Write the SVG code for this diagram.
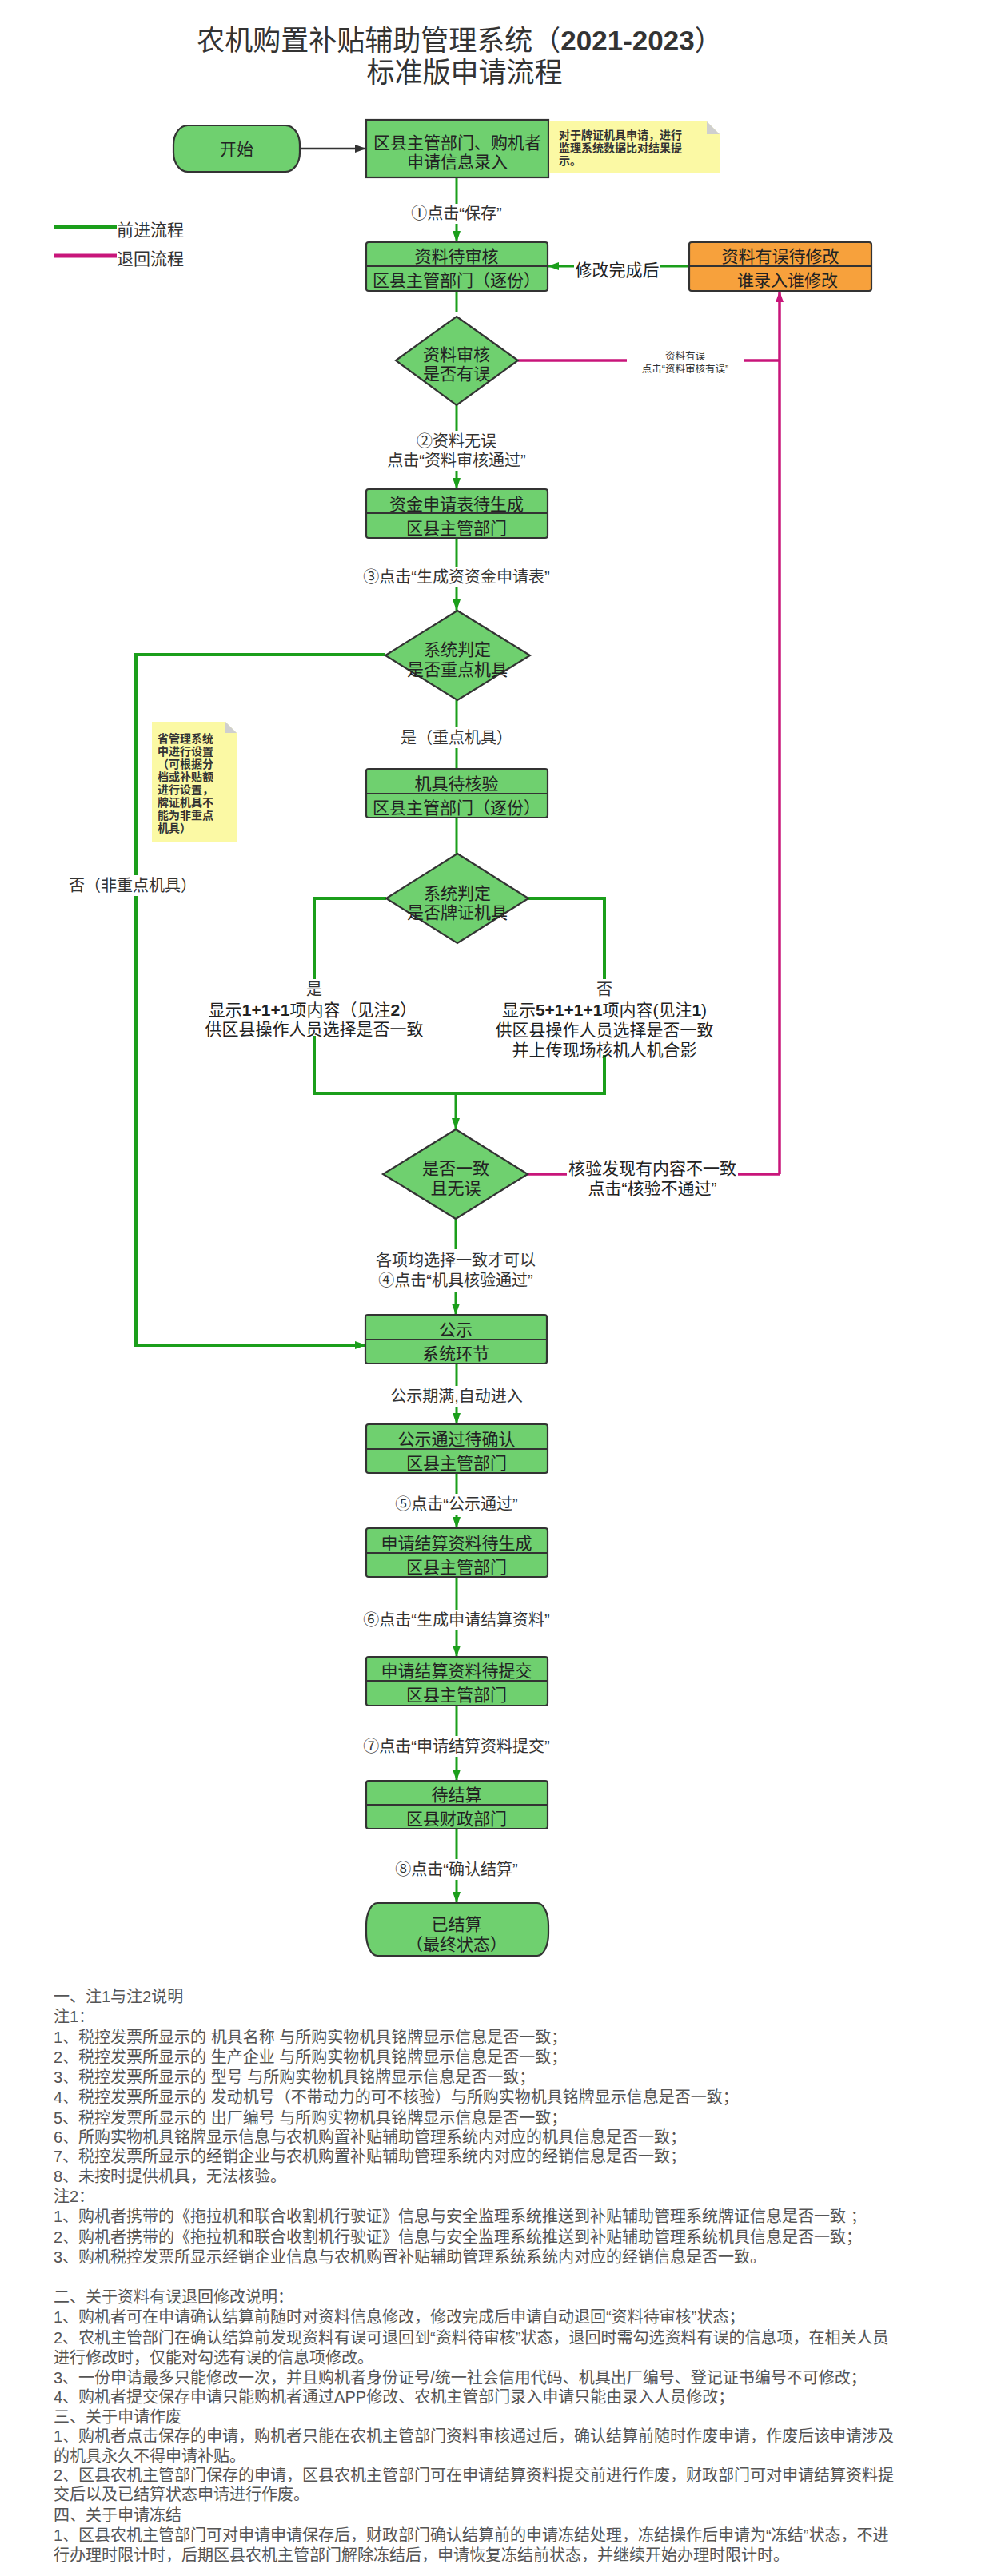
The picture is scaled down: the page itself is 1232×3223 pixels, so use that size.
<svg xmlns="http://www.w3.org/2000/svg" width="1232" height="3223" viewBox="0 0 1232 3223">
<style>
text{font-family:"Liberation Sans","Noto Sans CJK SC",sans-serif;dominant-baseline:central}
.title{font-size:35px;fill:#333;text-anchor:middle}
.t{font-size:21px;fill:#222;text-anchor:middle}
.l{font-size:20px;fill:#333;text-anchor:middle}
.s{font-size:12.5px;fill:#333;text-anchor:middle}
.nt{font-size:14px;fill:#333;font-weight:bold}
.doc{font-size:20px;fill:#555}
.box{fill:#6fd06f;stroke:#333;stroke-width:2.2}
.org{fill:#f7a13c;stroke:#333;stroke-width:2.2}
.div{stroke:#333;stroke-width:2.2}
.note{fill:#fbf9a4}
.fold{fill:#cfcfcf}
.g{fill:none;stroke:#1b9e1b;stroke-width:3}
.gt{fill:none;stroke:#1b9e1b;stroke-width:4}
.m{fill:none;stroke:#c8157a;stroke-width:3.5}
.k{fill:none;stroke:#333;stroke-width:2.5}
.bg{fill:#fff}
</style>
<defs>
<marker id="ag" markerWidth="14" markerHeight="10" refX="14" refY="5" orient="auto" markerUnits="userSpaceOnUse"><path d="M0,0 L14,5 L0,10 z" fill="#1b9e1b"/></marker>
<marker id="am" markerWidth="14" markerHeight="10" refX="14" refY="5" orient="auto" markerUnits="userSpaceOnUse"><path d="M0,0 L14,5 L0,10 z" fill="#c8157a"/></marker>
<marker id="ak" markerWidth="14" markerHeight="10" refX="14" refY="5" orient="auto" markerUnits="userSpaceOnUse"><path d="M0,0 L14,5 L0,10 z" fill="#333"/></marker>
</defs>
<rect width="1232" height="3223" fill="#fff"/>

<g id="title">
<text class="title" x="575" y="50">农机购置补贴辅助管理系统（<tspan font-weight="bold">2021-2023</tspan>）</text>
<text class="title" x="581" y="90">标准版申请流程</text>
</g>

<g id="legend">
<line x1="67" y1="284" x2="146" y2="284" stroke="#1b9e1b" stroke-width="5"/>
<text x="146" y="287" font-size="21" fill="#333">前进流程</text>
<line x1="67" y1="320" x2="146" y2="320" stroke="#c8157a" stroke-width="5"/>
<text x="146" y="323" font-size="21" fill="#333">退回流程</text>
</g>

<g id="connectors">
<path class="k" d="M375,186 H458" marker-end="url(#ak)"/>
<path class="g" d="M571,222 V303" marker-end="url(#ag)"/>
<path class="g" d="M571,364 V390"/>
<path class="g" d="M571,507 V612" marker-end="url(#ag)"/>
<path class="m" d="M648,451 H975"/>
<path class="m" d="M975,1469 V364" marker-end="url(#am)"/>
<path class="m" d="M658,1469 H975"/>
<path class="g" d="M862,333 H685" marker-end="url(#ag)"/>
<path class="g" d="M571,673 V764" marker-end="url(#ag)"/>
<path class="g" d="M571,876 V962"/>
<path class="gt" d="M482,819 H170 V1683 H458" marker-end="url(#ag)"/>
<path class="g" d="M571,1023 V1068"/>
<path class="gt" d="M483,1124 H393 V1225"/>
<path class="gt" d="M661,1124 H756 V1225"/>
<path class="gt" d="M393,1296 V1368 H756 V1320"/>
<path class="g" d="M570,1368 V1413" marker-end="url(#ag)"/>
<path class="g" d="M570,1525 V1645" marker-end="url(#ag)"/>
<path class="g" d="M571,1706 V1782" marker-end="url(#ag)"/>
<path class="g" d="M571,1843 V1912" marker-end="url(#ag)"/>
<path class="g" d="M571,1973 V2073" marker-end="url(#ag)"/>
<path class="g" d="M571,2134 V2228" marker-end="url(#ag)"/>
<path class="g" d="M571,2288 V2381" marker-end="url(#ag)"/>

<rect class="bg" x="509" y="255" width="124" height="25"/>
<text class="l" x="571" y="267">①点击“保存”</text>
<rect class="bg" x="479" y="539" width="184" height="50"/>
<text class="l" x="571" y="552">②资料无误</text>
<text class="l" x="571" y="576">点击“资料审核通过”</text>
<rect class="bg" x="452" y="709" width="238" height="26"/>
<text class="l" x="571" y="722">③点击“生成资资金申请表”</text>
<rect class="bg" x="718" y="322" width="108" height="26"/>
<text class="t" x="772" y="337">修改完成后</text>
<rect class="bg" x="784" y="436" width="146" height="36"/>
<text class="s" x="857" y="446">资料有误</text>
<text class="s" x="857" y="462">点击“资料审核有误”</text>
<rect class="bg" x="501" y="910" width="140" height="26"/>
<text class="l" x="571" y="923">是（重点机具）</text>
<rect class="bg" x="84" y="1095" width="164" height="26"/>
<text class="l" x="166" y="1108">否（非重点机具）</text>
<text class="l" x="393" y="1238">是</text>
<text class="l" x="756" y="1238">否</text>
<rect class="bg" x="709" y="1447" width="214" height="53"/>
<text class="t" x="816" y="1461">核验发现有内容不一致</text>
<text class="t" x="816" y="1486">点击“核验不通过”</text>
<rect class="bg" x="468" y="1563" width="204" height="53"/>
<text class="l" x="570" y="1577">各项均选择一致才可以</text>
<text class="l" x="570" y="1602">④点击“机具核验通过”</text>
<rect class="bg" x="486" y="1734" width="170" height="26"/>
<text class="l" x="571" y="1747">公示期满,自动进入</text>
<rect class="bg" x="493" y="1869" width="158" height="26"/>
<text class="l" x="571" y="1882">⑤点击“公示通过”</text>
<rect class="bg" x="453" y="2014" width="238" height="26"/>
<text class="l" x="571" y="2027">⑥点击“生成申请结算资料”</text>
<rect class="bg" x="453" y="2172" width="238" height="26"/>
<text class="l" x="571" y="2185">⑦点击“申请结算资料提交”</text>
<rect class="bg" x="493" y="2326" width="158" height="26"/>
<text class="l" x="571" y="2339">⑧点击“确认结算”</text>
</g>

<g id="n-start">
<rect class="box" x="217" y="157" width="158" height="58" rx="18" ry="24"/>
<text class="t" x="296" y="186">开始</text>
</g>
<g id="n-entry">
<rect class="box" x="458" y="150" width="228" height="72"/>
<text class="t" x="572" y="178">区县主管部门、购机者</text>
<text class="t" x="572" y="202">申请信息录入</text>
</g>
<g id="note1">
<path class="note" d="M687,152 H884 L900,168 V217 H687 Z"/>
<path class="fold" d="M884,152 L900,168 H884 Z"/>
<text class="nt" x="699" y="169">对于牌证机具申请，进行</text>
<text class="nt" x="699" y="185">监理系统数据比对结果提</text>
<text class="nt" x="699" y="201">示。</text>
</g>
<g id="n-review">
<rect class="box" x="458" y="303" width="227" height="61" rx="3"/>
<line class="div" x1="458" y1="333" x2="685" y2="333"/>
<text class="t" x="571" y="320">资料待审核</text>
<text class="t" x="571" y="350">区县主管部门（逐份）</text>
</g>
<g id="n-fix">
<rect class="org" x="862" y="303" width="228" height="61" rx="3"/>
<line class="div" x1="862" y1="333" x2="1090" y2="333"/>
<text class="t" x="976" y="320">资料有误待修改</text>
<text class="t" x="985" y="350">谁录入谁修改</text>
</g>
<g id="d-review">
<path class="box" d="M571,396 L648,451 L571,507 L495,451 Z"/>
<text class="t" x="571" y="443">资料审核</text>
<text class="t" x="571" y="467">是否有误</text>
</g>
<g id="n-fund">
<rect class="box" x="458" y="612" width="227" height="61" rx="3"/>
<line class="div" x1="458" y1="642" x2="685" y2="642"/>
<text class="t" x="571" y="630">资金申请表待生成</text>
<text class="t" x="571" y="660">区县主管部门</text>
</g>
<g id="d-key">
<path class="box" d="M572,764 L663,820 L572,876 L482,820 Z"/>
<text class="t" x="572" y="812">系统判定</text>
<text class="t" x="572" y="837">是否重点机具</text>
</g>
<g id="note2">
<path class="note" d="M190,903 H282 L296,917 V1053 H190 Z"/>
<path class="fold" d="M282,903 L296,917 H282 Z"/>
<text class="nt" x="197" y="924">省管理系统</text>
<text class="nt" x="197" y="940">中进行设置</text>
<text class="nt" x="197" y="956">（可根据分</text>
<text class="nt" x="197" y="972">档或补贴额</text>
<text class="nt" x="197" y="988">进行设置，</text>
<text class="nt" x="197" y="1004">牌证机具不</text>
<text class="nt" x="197" y="1020">能为非重点</text>
<text class="nt" x="197" y="1036">机具）</text>
</g>
<g id="n-check">
<rect class="box" x="458" y="962" width="227" height="61" rx="3"/>
<line class="div" x1="458" y1="993" x2="685" y2="993"/>
<text class="t" x="571" y="980">机具待核验</text>
<text class="t" x="571" y="1010">区县主管部门（逐份）</text>
</g>
<g id="d-plate">
<path class="box" d="M572,1068 L661,1124 L572,1180 L483,1124 Z"/>
<text class="t" x="572" y="1117">系统判定</text>
<text class="t" x="572" y="1141">是否牌证机具</text>
</g>
<g id="t-yes">
<text class="t" x="391" y="1263">显示<tspan font-weight="bold">1+1+1</tspan>项内容（见注<tspan font-weight="bold">2</tspan>）</text>
<text class="t" x="393" y="1287">供区县操作人员选择是否一致</text>
</g>
<g id="t-no">
<text class="t" x="756" y="1263">显示<tspan font-weight="bold">5+1+1+1</tspan>项内容(见注<tspan font-weight="bold">1</tspan>)</text>
<text class="t" x="756" y="1288">供区县操作人员选择是否一致</text>
<text class="t" x="756" y="1313">并上传现场核机人机合影</text>
</g>
<g id="d-match">
<path class="box" d="M570,1413 L660,1469 L570,1525 L479,1469 Z"/>
<text class="t" x="570" y="1461">是否一致</text>
<text class="t" x="570" y="1486">且无误</text>
</g>
<g id="n-public">
<rect class="box" x="457" y="1645" width="227" height="61" rx="3"/>
<line class="div" x1="457" y1="1676" x2="684" y2="1676"/>
<text class="t" x="570" y="1663">公示</text>
<text class="t" x="570" y="1693">系统环节</text>
</g>
<g id="n-confirm">
<rect class="box" x="458" y="1782" width="227" height="61" rx="3"/>
<line class="div" x1="458" y1="1813" x2="685" y2="1813"/>
<text class="t" x="571" y="1800">公示通过待确认</text>
<text class="t" x="571" y="1830">区县主管部门</text>
</g>
<g id="n-gen">
<rect class="box" x="458" y="1912" width="227" height="61" rx="3"/>
<line class="div" x1="458" y1="1943" x2="685" y2="1943"/>
<text class="t" x="571" y="1930">申请结算资料待生成</text>
<text class="t" x="571" y="1960">区县主管部门</text>
</g>
<g id="n-submit">
<rect class="box" x="458" y="2073" width="227" height="61" rx="3"/>
<line class="div" x1="458" y1="2103" x2="685" y2="2103"/>
<text class="t" x="571" y="2090">申请结算资料待提交</text>
<text class="t" x="571" y="2120">区县主管部门</text>
</g>
<g id="n-settle">
<rect class="box" x="458" y="2228" width="227" height="60" rx="3"/>
<line class="div" x1="458" y1="2258" x2="685" y2="2258"/>
<text class="t" x="571" y="2245">待结算</text>
<text class="t" x="571" y="2275">区县财政部门</text>
</g>
<g id="n-end">
<rect class="box" x="458" y="2381" width="228" height="66" rx="14" ry="28"/>
<text class="t" x="571" y="2407">已结算</text>
<text class="t" x="571" y="2432">（最终状态）</text>
</g>

<g id="notes">
<text class="doc" x="67" y="2498">一、注1与注2说明</text>
<text class="doc" x="67" y="2523">注1：</text>
<text class="doc" x="67" y="2549">1、税控发票所显示的 机具名称 与所购实物机具铭牌显示信息是否一致；</text>
<text class="doc" x="67" y="2574">2、税控发票所显示的 生产企业 与所购实物机具铭牌显示信息是否一致；</text>
<text class="doc" x="67" y="2599">3、税控发票所显示的 型号 与所购实物机具铭牌显示信息是否一致；</text>
<text class="doc" x="67" y="2624">4、税控发票所显示的 发动机号（不带动力的可不核验）与所购实物机具铭牌显示信息是否一致；</text>
<text class="doc" x="67" y="2650">5、税控发票所显示的 出厂编号 与所购实物机具铭牌显示信息是否一致；</text>
<text class="doc" x="67" y="2674">6、所购实物机具铭牌显示信息与农机购置补贴辅助管理系统内对应的机具信息是否一致；</text>
<text class="doc" x="67" y="2698">7、税控发票所显示的经销企业与农机购置补贴辅助管理系统内对应的经销信息是否一致；</text>
<text class="doc" x="67" y="2723">8、未按时提供机具，无法核验。</text>
<text class="doc" x="67" y="2748">注2：</text>
<text class="doc" x="67" y="2773">1、购机者携带的《拖拉机和联合收割机行驶证》信息与安全监理系统推送到补贴辅助管理系统牌证信息是否一致 ；</text>
<text class="doc" x="67" y="2799">2、购机者携带的《拖拉机和联合收割机行驶证》信息与安全监理系统推送到补贴辅助管理系统机具信息是否一致；</text>
<text class="doc" x="67" y="2824">3、购机税控发票所显示经销企业信息与农机购置补贴辅助管理系统系统内对应的经销信息是否一致。</text>
<text class="doc" x="67" y="2874">二、关于资料有误退回修改说明：</text>
<text class="doc" x="67" y="2899">1、购机者可在申请确认结算前随时对资料信息修改，修改完成后申请自动退回“资料待审核”状态；</text>
<text class="doc" x="67" y="2925">2、农机主管部门在确认结算前发现资料有误可退回到“资料待审核”状态，退回时需勾选资料有误的信息项，在相关人员</text>
<text class="doc" x="67" y="2950">进行修改时，仅能对勾选有误的信息项修改。</text>
<text class="doc" x="67" y="2975">3、一份申请最多只能修改一次，并且购机者身份证号/统一社会信用代码、机具出厂编号、登记证书编号不可修改；</text>
<text class="doc" x="67" y="2999">4、购机者提交保存申请只能购机者通过APP修改、农机主管部门录入申请只能由录入人员修改；</text>
<text class="doc" x="67" y="3024">三、关于申请作废</text>
<text class="doc" x="67" y="3048">1、购机者点击保存的申请，购机者只能在农机主管部门资料审核通过后，确认结算前随时作废申请，作废后该申请涉及</text>
<text class="doc" x="67" y="3073">的机具永久不得申请补贴。</text>
<text class="doc" x="67" y="3097">2、区县农机主管部门保存的申请，区县农机主管部门可在申请结算资料提交前进行作废，财政部门可对申请结算资料提</text>
<text class="doc" x="67" y="3121">交后以及已结算状态申请进行作废。</text>
<text class="doc" x="67" y="3147">四、关于申请冻结</text>
<text class="doc" x="67" y="3172">1、区县农机主管部门可对申请申请保存后，财政部门确认结算前的申请冻结处理，冻结操作后申请为“冻结”状态，不进</text>
<text class="doc" x="67" y="3197">行办理时限计时，后期区县农机主管部门解除冻结后，申请恢复冻结前状态，并继续开始办理时限计时。</text>
</g>
</svg>
